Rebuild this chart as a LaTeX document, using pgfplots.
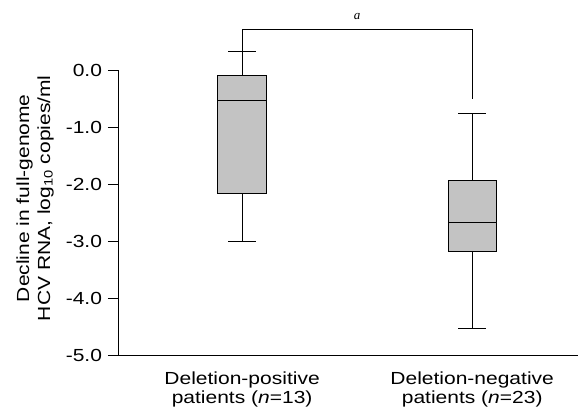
\documentclass[border=0pt]{standalone}
\usepackage{fontspec}
\setmainfont{Liberation Sans}
\newfontfamily\serifit{Liberation Serif}
\usepackage{graphicx}
\usepackage{pgfplots}
\usepgfplotslibrary{statistics}
\pgfplotsset{compat=1.18}
% the reference lettering is wider than Arial: stretch it horizontally
\newcommand\st[1]{\scalebox{1.2}[1]{#1}}
\begin{document}
\fontsize{17.5bp}{21bp}\selectfont
\begin{tikzpicture}
  \useasboundingbox (-119bp,-57bp) rectangle (461bp,355bp);
  \begin{axis}[
      at={(0,0)}, anchor=south west,
      scale only axis,
      width=459bp, height=285bp,
      xmin=-0.535, xmax=1.46,
      ymin=-5, ymax=0,
      clip=false,
      axis x line*=bottom,
      axis y line*=left,
      axis line style={-, line width=1bp},
      tick align=outside,
      major tick length=11bp,
      tick style={black, line width=1bp},
      ytick={-5,-4,-3,-2,-1,0},
      yticklabels={\st{-5.0},\st{-4.0},\st{-3.0},\st{-2.0},\st{-1.0},\st{0.0}},
      xtick={0,1},
      xticklabels={{\st{Deletion-positive}\\\st{patients (\textit{n}=13)}},
                   {\st{Deletion-negative}\\\st{patients (\textit{n}=23)}}},
      x tick style={draw=none},
      extra x ticks={0.5},
      extra x tick labels={},
      extra x tick style={tick style={black, line width=1bp}, major tick length=10bp},
      xticklabel style={align=center, font=\fontsize{17.5bp}{18.5bp}\selectfont},
      ylabel={\st{Decline in full-genome}\\\st{HCV RNA, log\textsubscript{10} copies/ml}},
      ylabel style={align=center, at={(axis description cs:-0.183,0.55)}, anchor=center},
      boxplot/draw direction=y,
    ]
    % deletion-positive
    \addplot[boxplot prepared={
        draw position=0,
        median=-0.53, upper quartile=-0.10, lower quartile=-2.16,
        upper whisker=0.32, lower whisker=-3.00,
        box extend=0.21, whisker extend=0.12},
      draw=black, fill=gray!47, line width=0.9bp] coordinates {};
    % deletion-negative
    \addplot[boxplot prepared={
        draw position=1,
        median=-2.68, upper quartile=-1.93, lower quartile=-3.18,
        upper whisker=-0.77, lower whisker=-4.53,
        box extend=0.21, whisker extend=0.12},
      draw=black, fill=gray!47, line width=0.9bp] coordinates {};
    % significance bracket
    \addplot[black, line width=0.9bp] coordinates {(0,0.32) (0,0.72) (1,0.72) (1,-0.50)};
    \node[anchor=base, yshift=9bp, inner sep=0pt, font=\serifit\itshape\fontsize{13bp}{13bp}\selectfont]
      at (axis cs:0.5,0.72) {a};
  \end{axis}
\end{tikzpicture}
\end{document}
